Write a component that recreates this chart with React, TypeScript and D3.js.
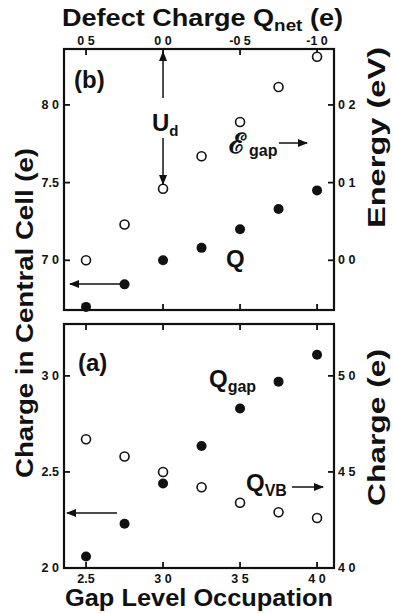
import * as d3 from 'd3';
import React from 'react';

// gap level occupation (shared x)
const occupation = [2.5, 2.75, 3.0, 3.25, 3.5, 3.75, 4.0];

// panel (b)
const centralCharge = [6.70, 6.845, 7.0, 7.08, 7.20, 7.33, 7.45];
const gapEnergy = [0.0, 0.046, 0.092, 0.134, 0.178, 0.223, 0.262];

// panel (a)
const gapCharge = [2.06, 2.23, 2.44, 2.635, 2.83, 2.97, 3.11];
const vbCharge = [4.67, 4.58, 4.50, 4.42, 4.34, 4.29, 4.26];

// tick values + labels (as printed)
const bottomTicks = [2.5, 3.0, 3.5, 4.0];
const bottomTickLabels = ['2.5', '3 0', '3 5', '4 0'];
const topTicks = [0.5, 0.0, -0.5, -1.0];
const topTickLabels = ['0 5', '0 0', '-0 5', '-1 0'];
const bLeftTicks = [8.0, 7.5, 7.0];
const bLeftLabels = ['8 0', '7.5', '7 0'];
const bRightTicks = [0.2, 0.1, 0.0];
const bRightLabels = ['0 2', '0 1', '0 0'];
const aLeftTicks = [3.0, 2.5, 2.0];
const aLeftLabels = ['3 0', '2.5', '2 0'];
const aRightTicks = [5.0, 4.5, 4.0];
const aRightLabels = ['5 0', '4 5', '4 0'];

const W = 393;
const H = 613;
const left = 64, right = 334;
const bTop = 49, bBottom = 310;
const aTop = 324, aBottom = 568;
const font = '"Liberation Sans", Arial, sans-serif';

const App = () => {
  const x = d3.scaleLinear().domain([2.357, 4.11]).range([left, right]);
  const xTop = d3.scaleLinear().domain([3 - 2.357, 3 - 4.11]).range([left, right]);
  const yB = d3.scaleLinear().domain([6.68, 8.36]).range([bBottom, bTop]);
  const eB = d3.scaleLinear().domain([(6.68 - 7) / 5, (8.36 - 7) / 5]).range([bBottom, bTop]);
  const yA = d3.scaleLinear().domain([2.0, 3.27]).range([aBottom, aTop]);
  const rA = d3.scaleLinear().domain([4.0, 5.27]).range([aBottom, aTop]);

  const tk = 6;
  const tickText = { fontFamily: font, fontSize: 12.5, fontWeight: 'bold' as const, fill: '#111' };
  const big = { fontFamily: font, fontSize: 24, fontWeight: 'bold' as const, fill: '#111' };
  const title = { fontFamily: font, fontSize: 23, fontWeight: 'bold' as const, fill: '#111' };

  return (
    <svg width={W} height={H} style={{ position: 'absolute', left: 0, top: 0, background: '#fff' }}>
      <defs>
        <marker id="ah" viewBox="0 0 10 10" refX="9" refY="5" markerWidth="7" markerHeight="7" orient="auto-start-reverse">
          <path d="M0,1 L10,5 L0,9 z" fill="#111" />
        </marker>
      </defs>

      {/* frames */}
      <rect x={left} y={bTop} width={right - left} height={bBottom - bTop} fill="none" stroke="#111" strokeWidth={2.2} />
      <rect x={left} y={aTop} width={right - left} height={aBottom - aTop} fill="none" stroke="#111" strokeWidth={2.2} />

      {/* top axis */}
      {topTicks.map((t, i) => (
        <g key={'tt' + i}>
          <line x1={xTop(t)} x2={xTop(t)} y1={bTop} y2={bTop + tk} stroke="#111" strokeWidth={1.8} />
          <text x={xTop(t)} y={bTop - 4} textAnchor="middle" {...tickText}>{topTickLabels[i]}</text>
        </g>
      ))}
      {/* panel b bottom ticks, panel a top & bottom ticks */}
      {bottomTicks.map((t, i) => (
        <g key={'bt' + i}>
          <line x1={x(t)} x2={x(t)} y1={bBottom} y2={bBottom - tk} stroke="#111" strokeWidth={1.8} />
          <line x1={x(t)} x2={x(t)} y1={aTop} y2={aTop + tk} stroke="#111" strokeWidth={1.8} />
          <line x1={x(t)} x2={x(t)} y1={aBottom} y2={aBottom - tk} stroke="#111" strokeWidth={1.8} />
          <text x={x(t)} y={aBottom + 15} textAnchor="middle" {...tickText}>{bottomTickLabels[i]}</text>
        </g>
      ))}

      {/* panel b y ticks */}
      {bLeftTicks.map((t, i) => (
        <g key={'bl' + i}>
          <line x1={left} x2={left + tk} y1={yB(t)} y2={yB(t)} stroke="#111" strokeWidth={1.8} />
          <text x={left - 5} y={yB(t) + 4} textAnchor="end" {...tickText}>{bLeftLabels[i]}</text>
        </g>
      ))}
      {bRightTicks.map((t, i) => (
        <g key={'br' + i}>
          <line x1={right} x2={right - tk} y1={eB(t)} y2={eB(t)} stroke="#111" strokeWidth={1.8} />
          <text x={right + 4} y={eB(t) + 4} textAnchor="start" {...tickText}>{bRightLabels[i]}</text>
        </g>
      ))}
      {/* panel a y ticks */}
      {aLeftTicks.map((t, i) => (
        <g key={'al' + i}>
          <line x1={left} x2={left + tk} y1={yA(t)} y2={yA(t)} stroke="#111" strokeWidth={1.8} />
          <text x={left - 5} y={yA(t) + 4} textAnchor="end" {...tickText}>{aLeftLabels[i]}</text>
        </g>
      ))}
      {aRightTicks.map((t, i) => (
        <g key={'ar' + i}>
          <line x1={right} x2={right - tk} y1={rA(t)} y2={rA(t)} stroke="#111" strokeWidth={1.8} />
          <text x={right + 4} y={rA(t) + 4} textAnchor="start" {...tickText}>{aRightLabels[i]}</text>
        </g>
      ))}

      {/* panel b markers */}
      {occupation.map((o, i) => (
        <g key={'pb' + i}>
          <circle cx={x(o)} cy={eB(gapEnergy[i])} r={4.5} fill="#fff" stroke="#111" strokeWidth={1.6} />
          <circle cx={x(o)} cy={yB(centralCharge[i])} r={5} fill="#111" />
        </g>
      ))}
      {/* panel a markers */}
      {occupation.map((o, i) => (
        <g key={'pa' + i}>
          <circle cx={x(o)} cy={rA(vbCharge[i])} r={4.5} fill="#fff" stroke="#111" strokeWidth={1.6} />
          <circle cx={x(o)} cy={yA(gapCharge[i])} r={5} fill="#111" />
        </g>
      ))}

      {/* panel b annotations */}
      <text x={74} y={88} {...big}>(b)</text>
      <line x1={x(3.0)} x2={x(3.0)} y1={98} y2={bTop + 3} stroke="#111" strokeWidth={1.5} markerEnd="url(#ah)" />
      <line x1={x(3.0)} x2={x(3.0)} y1={138} y2={184} stroke="#111" strokeWidth={1.5} markerEnd="url(#ah)" />
      <text x={152} y={131} {...big}>U<tspan fontSize={15} dy={5}>d</tspan></text>
      <text x={229} y={153} fontFamily="'DejaVu Serif', serif" fontSize={28} fontWeight="bold" fill="#111">ℰ</text>
      <text x={249} y={156} fontFamily={font} fontSize={16} fontWeight="bold" fill="#111">gap</text>
      <line x1={279} x2={307} y1={143} y2={143} stroke="#111" strokeWidth={1.5} markerEnd="url(#ah)" />
      <text x={226} y={267} {...big}>Q</text>
      <line x1={121} x2={70} y1={284} y2={284} stroke="#111" strokeWidth={1.5} markerEnd="url(#ah)" />

      {/* panel a annotations */}
      <text x={78} y={371} {...big}>(a)</text>
      <text x={209} y={387} {...big}>Q<tspan fontSize={16} dy={5}>gap</tspan></text>
      <text x={246} y={491} {...big}>Q<tspan fontSize={16} dy={5}>VB</tspan></text>
      <line x1={292} x2={323} y1={487} y2={487} stroke="#111" strokeWidth={1.5} markerEnd="url(#ah)" />
      <line x1={117} x2={67} y1={513} y2={513} stroke="#111" strokeWidth={1.5} markerEnd="url(#ah)" />

      {/* axis titles */}
      <text x={62} y={26} textLength={281} lengthAdjust="spacingAndGlyphs" {...title}>
        Defect Charge Q<tspan fontSize={16} dy={5}>net</tspan><tspan dy={-5}> (e)</tspan>
      </text>
      <text x={65} y={606} textLength={268} lengthAdjust="spacingAndGlyphs" {...title}>Gap Level Occupation</text>
      <text transform={`translate(33,478) rotate(-90)`} textLength={330} lengthAdjust="spacingAndGlyphs" {...title}>Charge in Central Cell (e)</text>
      <text transform={`translate(385,228) rotate(-90)`} textLength={181} lengthAdjust="spacingAndGlyphs" {...title}>Energy (eV)</text>
      <text transform={`translate(385,506) rotate(-90)`} textLength={157} lengthAdjust="spacingAndGlyphs" {...title}>Charge (e)</text>
    </svg>
  );
};

export default App;
